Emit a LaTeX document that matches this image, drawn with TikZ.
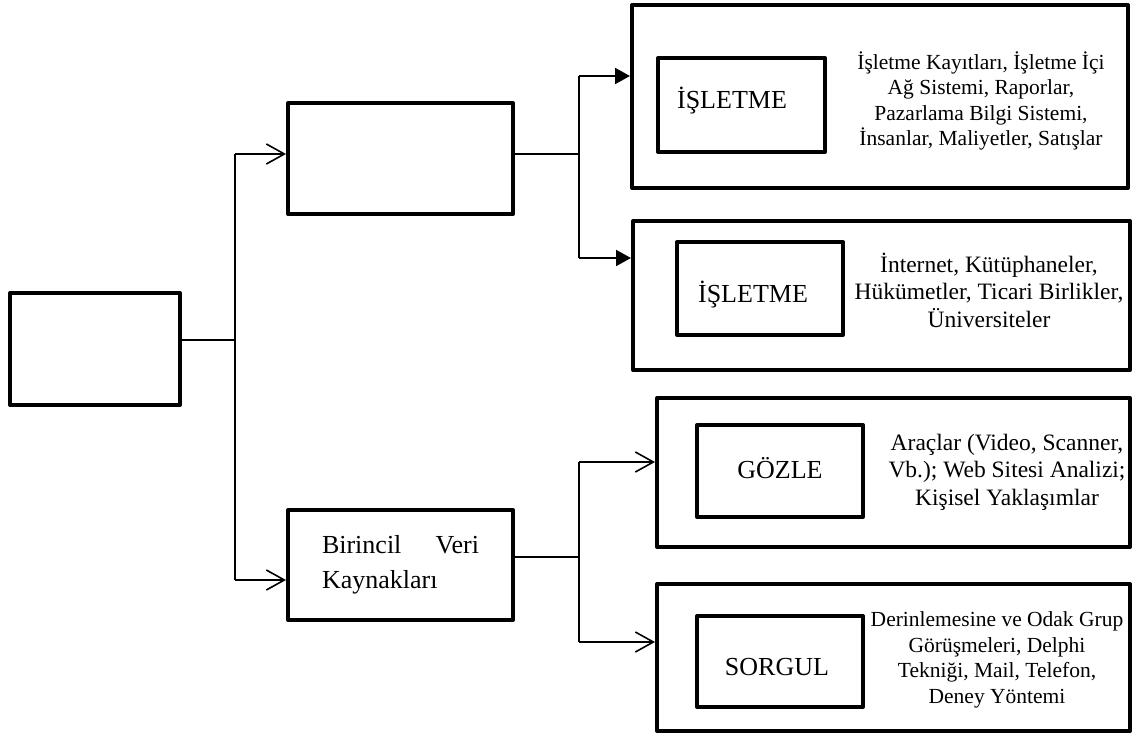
\documentclass[tikz,border=0pt]{standalone}
\usepackage{fontspec}
\setmainfont{Liberation Serif}
\usetikzlibrary{arrows.meta}
\begin{document}
\begin{tikzpicture}[x=1pt,y=-1pt,
  box/.style={draw, line width=4pt, line join=round, rectangle, inner sep=0pt},
  conn/.style={line width=1.6pt},
  openarr/.style={conn, -{Straight Barb[length=18pt,width=20pt]}},
  fillarr/.style={line width=2pt, -{Triangle[length=15pt,width=16pt]}},
  ttl/.style={font=\fontsize{26}{30}\selectfont, inner sep=0pt, anchor=base},
  desc/.style={font=\fontsize{21.5}{25.5}\selectfont, align=center, inner sep=0pt},
  descbig/.style={desc, font=\fontsize{23.5}{27.5}\selectfont}]
\useasboundingbox[fill=white] (0,0) rectangle (1136,736);

% left and middle boxes
\node[box, minimum width=170pt, minimum height=112pt] (L) at (95,349) {};
\node[box, minimum width=225pt, minimum height=111pt] (M1) at (400.5,158.5) {};
\node[box, minimum width=225pt, minimum height=110pt, align=left,
      font=\fontsize{26}{35}\selectfont] (M2) at (400.5,565)
      {\makebox[157pt][s]{Birincil Veri}\\Kaynakları};

% right outer boxes
\node[box, minimum width=496pt, minimum height=183pt] (B1) at (880,96.5) {};
\node[box, minimum width=497pt, minimum height=149pt] (B2) at (881.5,295.5) {};
\node[box, minimum width=473pt, minimum height=149pt] (B3) at (893.5,472.5) {};
\node[box, minimum width=473pt, minimum height=147pt] (B4) at (893.5,657.5) {};

% inner boxes
\node[box, minimum width=167pt, minimum height=94pt] (I1) at (741.5,105) {};
\node[box, minimum width=166pt, minimum height=93pt] (I2) at (760,288.5) {};
\node[box, minimum width=166pt, minimum height=92pt] (I3) at (780,471) {};
\node[box, minimum width=166pt, minimum height=91pt] (I4) at (780,661.5) {};

% titles
\node[ttl] (T1) at (732,108) {İŞLETME};
\node[ttl] (T2) at (753,302) {İŞLETME};
\node[ttl] (T3) at (780,478) {GÖZLE};
\node[ttl] (T4) at (777,675) {SORGUL};

% descriptions
\node[desc] (D1) at (981,101) {İşletme Kayıtları, İşletme İçi\\Ağ Sistemi, Raporlar,\\Pazarlama Bilgi Sistemi,\\İnsanlar, Maliyetler, Satışlar};
\node[descbig] (D2) at (989,290) {İnternet, Kütüphaneler,\\Hükümetler, Ticari Birlikler,\\Üniversiteler};
\node[descbig] (D3) at (1007,472) {Araçlar (Video, Scanner,\\Vb.); Web Sitesi Analizi;\\Kişisel Yaklaşımlar};
\node[desc] (D4) at (997,660) {Derinlemesine ve Odak Grup\\Görüşmeleri, Delphi\\Tekniği, Mail, Telefon,\\Deney Yöntemi};

% connector coordinates
\coordinate (tj) at (235,340);
\coordinate (t1) at (235,154);
\coordinate (t2) at (235,580);
\coordinate (u0) at (579,154);
\coordinate (u1) at (579,76);
\coordinate (u2) at (579,258);
\coordinate (d0) at (579,557);
\coordinate (d1) at (579,462);
\coordinate (d2) at (579,642);

% left trunk
\draw[conn] (L.east |- tj) -- (tj);
\draw[conn] (t1) -- (t2);
\draw[openarr] (t1) -- (M1.west |- t1);
\draw[openarr] (t2) -- (M2.west |- t2);

% upper branch
\draw[conn] (M1.east |- u0) -- (u0);
\draw[conn] (u1) -- (u2);
\draw[fillarr] (u1) -- (B1.west |- u1);
\draw[fillarr] (u2) -- (B2.west |- u2);

% lower branch
\draw[conn] (M2.east |- d0) -- (d0);
\draw[conn] (d1) -- (d2);
\draw[openarr] (d1) -- (B3.west |- d1);
\draw[openarr] (d2) -- (B4.west |- d2);
\end{tikzpicture}
\end{document}
